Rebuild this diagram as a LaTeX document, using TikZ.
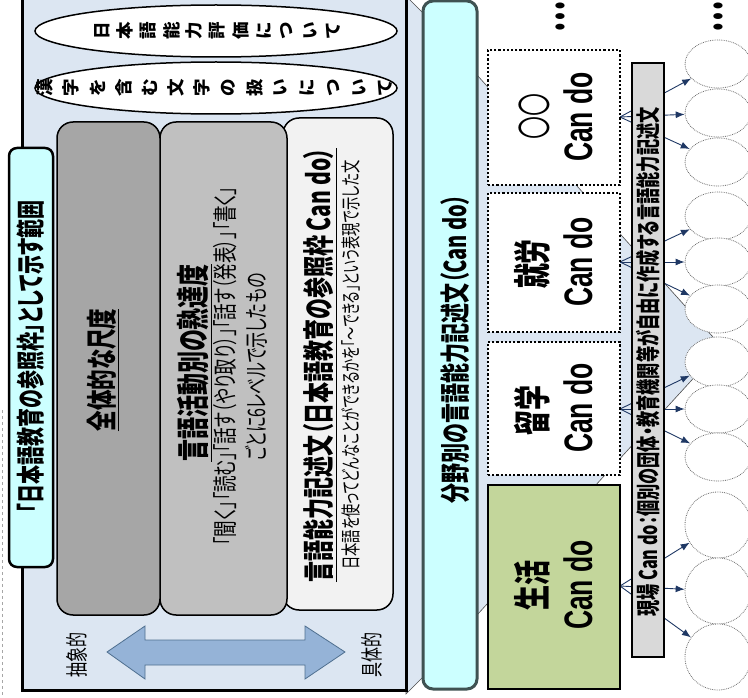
\documentclass[tikz,border=0pt]{standalone}
\usepackage{fontspec}
\setmainfont{Noto Sans CJK JP}[RawFeature=+palt]
\newfontfamily\latinfont{Liberation Sans}
\usetikzlibrary{arrows.meta,shapes.geometric}
\definecolor{panelbg}{HTML}{DCE6F2}
\definecolor{cyanbg}{HTML}{CCFFFF}
\definecolor{dgray}{HTML}{A6A6A6}
\definecolor{mgray}{HTML}{C0C0C0}
\definecolor{lgray}{HTML}{F2F2F2}
\definecolor{arrowblue}{HTML}{95B3D7}
\definecolor{arrowedge}{HTML}{4F6F8F}
\definecolor{barbg}{HTML}{D9D9D9}
\definecolor{navy}{HTML}{1F3864}
\definecolor{greenbg}{HTML}{C3D69B}
\definecolor{barline}{HTML}{3F5252}
\begin{document}
\begin{tikzpicture}[x=1pt,y=-1pt,
  vt/.style={rotate=90, yscale=1.5, inner sep=0pt, anchor=center},
  fr/.style={font=\fontsize{#1}{#1}\selectfont},
  fb/.style={font=\bfseries\fontsize{#1}{#1}\selectfont},
  cando/.style={font=\latinfont\bfseries\fontsize{26.5}{26.5}\selectfont},
  circ/.style={ellipse, draw=black!55, densely dotted, line width=0.8pt, fill=white, minimum width=66pt, inner sep=0pt},
  dotbox/.style={draw, fill=white, line width=2pt, dash pattern=on 2.2pt off 2pt, minimum width=132pt, inner sep=0pt},
  fan/.style={draw=navy, line width=0.9pt, -{Latex[length=9pt,width=7pt]}},
  ellbox/.style={ellipse, draw, fill=white, line width=1.5pt, minimum width=362pt, minimum height=52pt, inner sep=0pt},
  edge/.style={draw=black!70, line width=0.6pt, fill=panelbg}
]
\useasboundingbox (0,0) rectangle (748,698);
\clip (0,0) rectangle (748,698);

% faint dashed line at far left
\draw[gray!70, dashed, line width=0.6pt] (2,410) -- (2,698);

% connecting band between panel and bar
\draw[edge] (406,-4) -- (426,16) -- (426,674) -- (406,694) -- cycle;
% left panel
\draw[fill=panelbg, line width=3pt] (22,-10) rectangle (406,690);
% triangle behind the right part
\draw[edge] (477,75) -- (722,347) -- (477,615) -- cycle;
% right cyan bar
\draw[fill=cyanbg, draw=barline, line width=3pt, rounded corners=10pt] (423,1) rectangle (477,689);

% ellipses
\node[ellbox] (ell1) at (216,31) {};
\node[ellbox] (ell2) at (216,88) {};
\foreach \ch [count=\i] in {日,本,語,能,力,評,価,に,つ,い,て}
  \node[rotate=90, inner sep=0pt, fb=17.5] (ea\i) at ({102+(\i-1)*23.1},31) {\ch};
\foreach \ch [count=\i] in {漢,字,を,含,む,文,字,の,扱,い,に,つ,い,て}
  \node[rotate=90, inner sep=0pt, fb=17.5] (eb\i) at ({45+(\i-1)*26.2},88) {\ch};

% grey boxes
\draw[fill=lgray, line width=1.5pt, rounded corners=16pt] (283,118) rectangle (393,610);
\draw[fill=mgray, line width=1.5pt, rounded corners=16pt] (160,122) rectangle (287,615);
\draw[fill=dgray, line width=1.5pt, rounded corners=16pt] (57,122) rectangle (160,615);

% left cyan bar
\draw[fill=cyanbg, line width=2.5pt, rounded corners=8pt] (9,148) rectangle (53,567);

% texts in the left panel
\node[vt, fb=19] (t1) at (31,357) {「日本語教育の参照枠」として示す範囲};
\node[vt, fb=20.5] (t2) at (103,370) {\underline{全体的な尺度}};
\node[vt, fb=22] (t3) at (195,363) {\underline{言語活動別の熟達度}};
\node[vt, fr=16.5] (t4) at (225,366) {「聞く」「読む」「話す（やり取り）」「話す（発表）」「書く」};
\node[vt, fr=16] (t5) at (256,367) {ごとに6レベルで示したもの};
\node[vt, fb=21] (t6) at (320,365) {\underline{言語能力記述文（日本語教育の参照枠 Can do）}};
\node[vt, fr=13.3] (t7) at (351,365) {日本語を使ってどんなことができるかを「～できる」という表現で示した文};

% block arrow
\draw[fill=arrowblue, draw=arrowedge, line width=0.8pt]
  (107,652) -- (145,626) -- (145,640) -- (305,640) -- (305,626) -- (345,652)
  -- (305,679) -- (305,665) -- (145,665) -- (145,679) -- cycle;
\node[vt, fr=15] (abs) at (77,655) {抽象的};
\node[vt, fr=15] (con) at (372,655) {具体的};

% right bar text
\node[vt, fb=20] (t8) at (455,349) {分野別の言語能力記述文（Can do）};

% circles
\foreach \cy/\h [count=\i] in {64/48,113/48,162/48,216/48,262/48,309/48,362/50,409/48,457/48,525/66,591/66,657/66}
  \node[circ, minimum height=\h] (c\i) at (718,\cy) {};

% fan sources
\coordinate (s1) at (620,117);
\coordinate (s2) at (620,262);
\coordinate (s3) at (620,409);
\coordinate (s4) at (620,586);
\foreach \s/\a/\b/\c in {s1/c1/c2/c3, s2/c4/c5/c6, s3/c7/c8/c9, s4/c10/c11/c12}{
  \draw[fan] (\s) -- (\a);
  \draw[fan] (\s) -- (\b);
  \draw[fan] (\s) -- (\c);
}

% label bar
\draw[fill=barbg, line width=1.5pt] (632,63) rectangle (664,657);
\node[vt, fb=16.2] (t9) at (648,362) {現場 Can do：個別の団体・教育機関等が自由に作成する言語能力記述文};

% boxes
\node[dotbox, minimum height=135pt] (b1) at (554,117.5) {};
\node[dotbox, minimum height=139pt] (b2) at (554,262.5) {};
\node[dotbox, minimum height=133pt] (b3) at (554,408.5) {};
\node[draw, fill=greenbg, line width=2pt, minimum width=132pt, minimum height=204pt, inner sep=0pt] (b4) at (554,587) {};

\node[vt, fr=23] (b1a) at (534,117) {〇〇};
\node[vt, cando] (b1b) at (578,117) {Can do};
\node[vt, fb=25] (b2a) at (532,264) {就労};
\node[vt, cando] (b2b) at (578,262) {Can do};
\node[vt, fb=25] (b3a) at (532,410) {留学};
\node[vt, cando] (b3b) at (578,408) {Can do};
\node[vt, fb=25] (b4a) at (532,585) {生活};
\node[vt, cando] (b4b) at (578,585) {Can do};

% ellipsis marks
\node[vt, fb=28] (d1) at (560,17) {…};
\node[vt, fb=28] (d2) at (718,17) {…};
\end{tikzpicture}
\end{document}
